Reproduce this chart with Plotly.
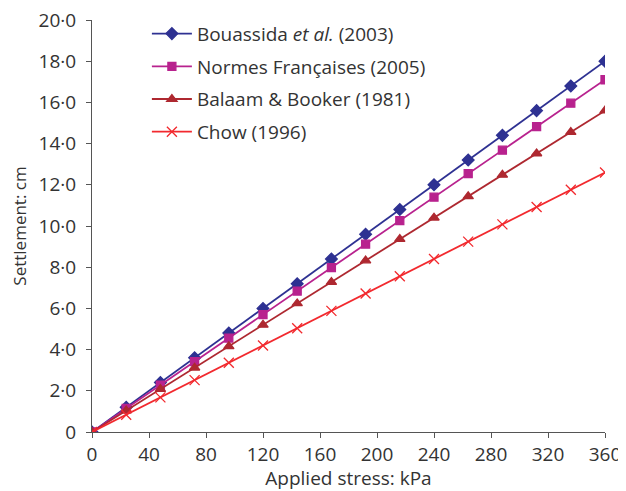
import plotly.graph_objects as go

stress = [0, 24, 48, 72, 96, 120, 144, 168, 192, 216, 240, 264, 288, 312, 336, 360]
bouassida = [0, 1.2, 2.4, 3.6, 4.8, 6.0, 7.2, 8.4, 9.6, 10.8, 12.0, 13.2, 14.4, 15.6, 16.8, 18.0]
normes = [0, 1.14, 2.28, 3.42, 4.56, 5.7, 6.84, 7.98, 9.12, 10.26, 11.4, 12.54, 13.68, 14.82, 15.96, 17.1]
balaam = [0, 1.04, 2.08, 3.12, 4.16, 5.2, 6.24, 7.28, 8.32, 9.36, 10.4, 11.44, 12.48, 13.52, 14.56, 15.6]
chow = [0, 0.84, 1.68, 2.52, 3.36, 4.2, 5.04, 5.88, 6.72, 7.56, 8.4, 9.24, 10.08, 10.92, 11.76, 12.6]

x_ticks = [0, 40, 80, 120, 160, 200, 240, 280, 320, 360]
y_ticks = [0, 2, 4, 6, 8, 10, 12, 14, 16, 18, 20]
y_tick_labels = ["0", "2·0", "4·0", "6·0", "8·0", "10·0", "12·0", "14·0", "16·0", "18·0", "20·0"]

series = [
    ("Bouassida <i>et al.</i> (2003)", bouassida, "#2E3192", "diamond", 9),
    ("Normes Françaises (2005)", normes, "#B8228E", "square", 8),
    ("Balaam & Booker (1981)", balaam, "#AE2830", "triangle-up", 9),
    ("Chow (1996)", chow, "#F2292E", "x-thin", 10),
]

fig = go.Figure()
for i, (name, ys, color, sym, size) in enumerate(series):
    fig.add_trace(go.Scatter(
        x=stress, y=ys, name=name, mode="lines+markers", legendgroup=f"g{i}",
        line=dict(color=color, width=1.8),
        marker=dict(symbol=sym, size=size, color=color,
                    line=dict(color=color, width=1.3)),
    ))

FAM = "Open Sans, Noto Sans, sans-serif"
axis_font = dict(family=FAM, size=19, color="#333333")
fig.update_layout(
    width=618, height=483,
    margin=dict(l=84, r=21, t=12, b=59, autoexpand=False),
    plot_bgcolor="white", paper_bgcolor="white",
    font=axis_font,
    showlegend=True,
    legend=dict(x=0.107, y=0.986, yref="container", xanchor="left", yanchor="top",
                bgcolor="rgba(0,0,0,0)", font=dict(family=FAM, size=19, color="#333333"),
                itemwidth=40, tracegroupgap=5),
    xaxis=dict(range=[0, 360], tickvals=x_ticks, showgrid=False, zeroline=False,
               showline=True, linecolor="#555555", linewidth=1, automargin=False,
               ticks="outside", ticklen=5, tickcolor="#555555", ticklabeloverflow="allow",
               title=dict(text="Applied stress: kPa", standoff=0,
                          font=dict(family=FAM, size=19, color="#333333")), tickfont=axis_font),
    yaxis=dict(range=[0, 20], tickvals=y_ticks, ticktext=y_tick_labels, showgrid=False,
               zeroline=False, showline=True, linecolor="#555555", linewidth=1, automargin=False,
               ticks="outside", ticklen=5, tickcolor="#555555", ticklabelstandoff=6,
               ticklabeloverflow="allow",
               title=dict(text="Settlement: cm", standoff=8,
                          font=dict(family=FAM, size=17, color="#333333")), tickfont=axis_font),
)

fig.write_html("out.html")
